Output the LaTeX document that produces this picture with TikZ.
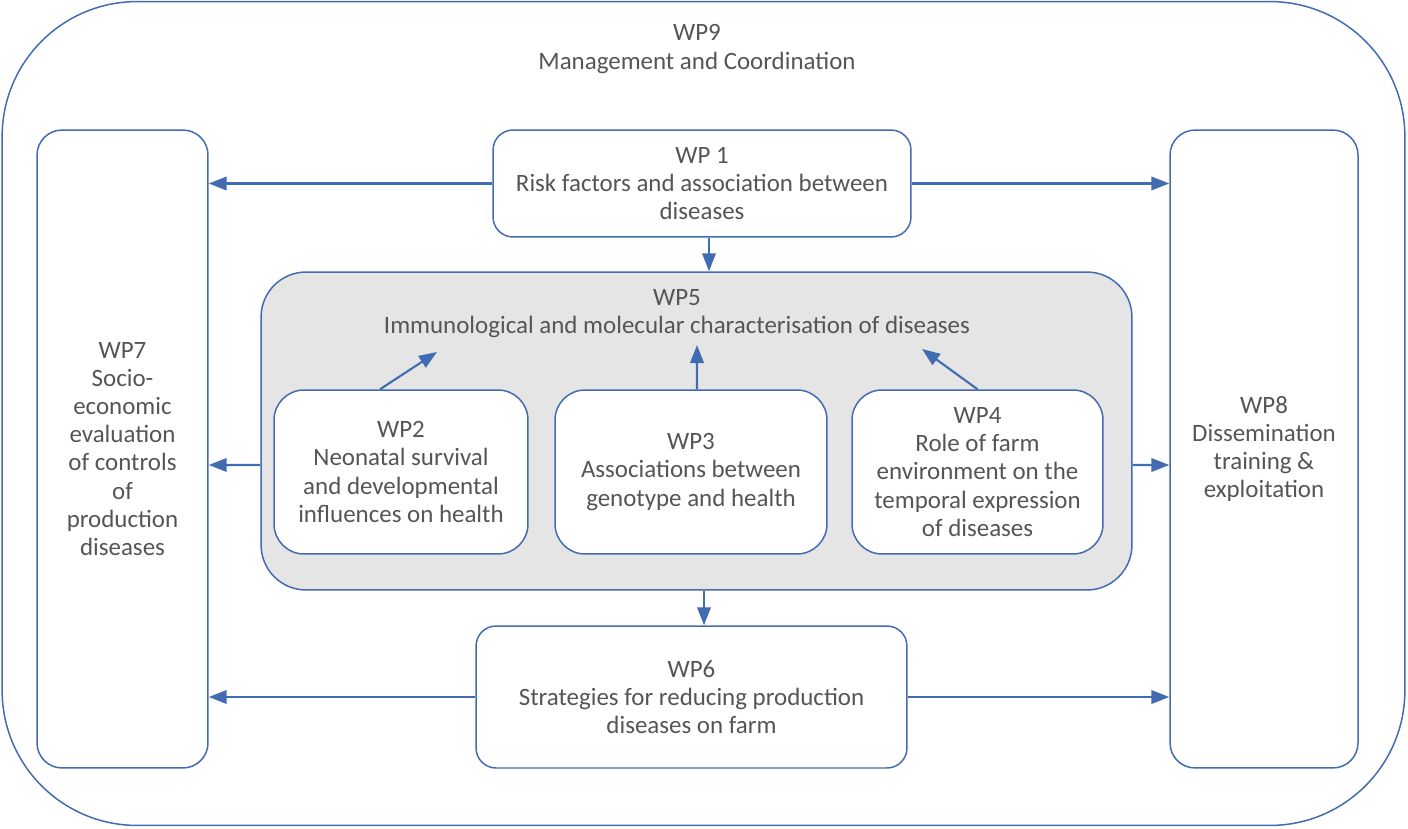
\documentclass[tikz,border=0pt]{standalone}
\usepackage{fontspec}
\setmainfont{Carlito}
\usetikzlibrary{arrows.meta}
\definecolor{wpblue}{RGB}{66,108,178}
\definecolor{wptext}{RGB}{85,85,85}
\definecolor{wpgrey}{RGB}{229,229,229}
\begin{document}
\begin{tikzpicture}[x=0.02cm, y=-0.02cm,
  font=\fontsize{14.2}{16}\selectfont, text=wptext,
  wpbox/.style={draw=wpblue, line width=0.85pt, rectangle, align=center, inner sep=2pt},
  arr/.style={draw=wpblue, line width=1.2pt, -{Triangle[length=0.36cm, width=0.27cm]}}]
\useasboundingbox (0,0) rectangle (1408,828);
% outer frame
\node[wpbox, rounded corners=2.7cm, minimum width=28.06cm, minimum height=16.48cm] (wp9) at (703.5,413.5) {};
\node[align=center] (wp9t) at (697,49) {WP9\\Management and Coordination};
% side boxes
\node[wpbox, rounded corners=0.5cm, minimum width=3.42cm, minimum height=12.76cm] (wp7) at (122.5,449) {WP7\\Socio-\\economic\\evaluation\\of controls\\of\\production\\diseases};
\node[wpbox, rounded corners=0.5cm, minimum width=3.76cm, minimum height=12.76cm] (wp8) at (1264,449) {WP8\\Dissemination\\training \&\\exploitation};
% top and bottom
\node[wpbox, rounded corners=0.4cm, minimum width=8.36cm, minimum height=2.14cm] (wp1) at (702,183.5) {WP 1\\Risk factors and association between\\diseases};
\node[wpbox, rounded corners=0.4cm, minimum width=8.62cm, minimum height=2.84cm] (wp6) at (691.5,697) {WP6\\Strategies for reducing production\\diseases on farm};
% WP5 and inner boxes
\node[wpbox, fill=wpgrey, rounded corners=0.9cm, minimum width=17.42cm, minimum height=6.36cm] (wp5) at (696.5,431) {};
\node[align=center] (wp5t) at (677,314) {WP5\\Immunological and molecular characterisation of diseases};
\node[wpbox, fill=white, rounded corners=0.6cm, minimum width=5.08cm, minimum height=3.28cm] (wp2) at (401,472) {WP2\\Neonatal survival\\and developmental\\influences on health};
\node[wpbox, fill=white, rounded corners=0.6cm, minimum width=5.44cm, minimum height=3.28cm] (wp3) at (691,472) {WP3\\Associations between\\genotype and health};
\node[wpbox, fill=white, rounded corners=0.6cm, minimum width=5.02cm, minimum height=3.28cm] (wp4) at (977.5,472) {WP4\\Role of farm\\environment on the\\temporal expression\\of diseases};
% arrow ends inside WP5
\coordinate (to2) at (437,352);
\coordinate (to3) at (697,345);
\coordinate (to4) at (922,349);
% connectors
\draw[arr] (wp1.west) -- (wp7.east |- wp1.west);
\draw[arr] (wp1.east) -- (wp8.west |- wp1.east);
\draw[arr] ([xshift=0.14cm]wp1.south) -- ([xshift=0.14cm]wp1.south |- wp5.north);
\draw[arr] ([yshift=-0.68cm]wp5.west) -- (wp7.east |- 0,465);
\draw[arr] ([yshift=-0.68cm]wp5.east) -- (wp8.west |- 0,465);
\draw[arr] ([xshift=0.15cm]wp5.south) -- ([xshift=0.15cm]wp5.south |- wp6.north);
\draw[arr] (wp6.west) -- (wp7.east |- wp6.west);
\draw[arr] (wp6.east) -- (wp8.west |- wp6.east);
\draw[arr] ([xshift=-0.42cm]wp2.north) -- (to2);
\draw[arr] ([xshift=0.12cm]wp3.north) -- (to3);
\draw[arr] (wp4.north) -- (to4);
\end{tikzpicture}
\end{document}
